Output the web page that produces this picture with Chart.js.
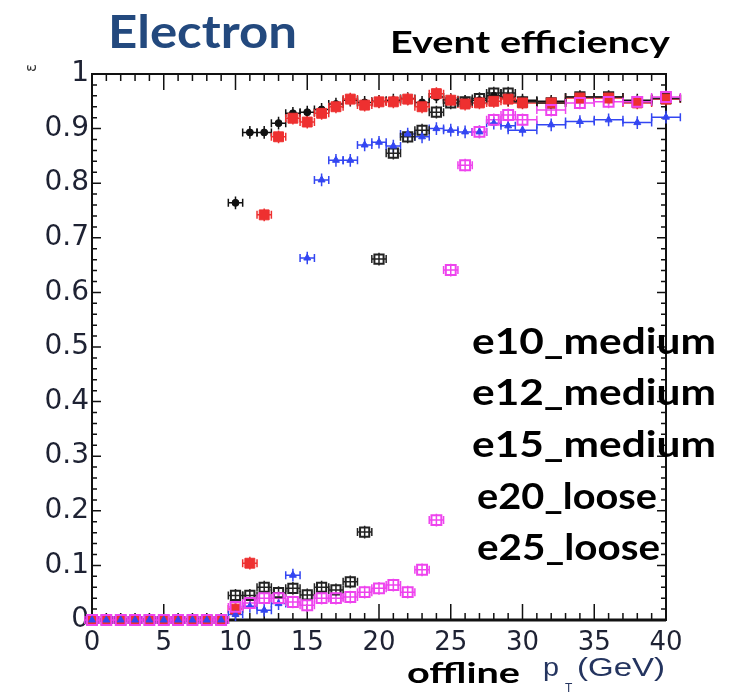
<!DOCTYPE html>
<html>
<head>
<meta charset="utf-8">
<title>Electron event efficiency</title>
<script src="https://cdn.jsdelivr.net/npm/chart.js@4.4.1/dist/chart.umd.min.js"></script>
<style>
  html, body { margin: 0; padding: 0; background: #fff; }
  #wrap { width: 733px; height: 694px; }
</style>
</head>
<body>
<div id="wrap"><canvas id="effChart" width="733" height="694"></canvas></div>
<script>
// offline pT bin centres (GeV) and half widths
const ptBins = [0, 1, 2, 3, 4, 5, 6, 7, 8, 9, 10, 11, 12, 13, 14, 15, 16, 17, 18, 19,
                20, 21, 22, 23, 24, 25, 26, 27, 28, 29, 30, 32, 34, 36, 38, 40];
const binHalfWidth = [0.5, 0.5, 0.5, 0.5, 0.5, 0.5, 0.5, 0.5, 0.5, 0.5, 0.5, 0.5, 0.5, 0.5, 0.5,
                      0.5, 0.5, 0.5, 0.5, 0.5, 0.5, 0.5, 0.5, 0.5, 0.5, 0.5, 0.5, 0.5, 0.5, 0.5,
                      1, 1, 1, 1, 1, 1];

// efficiency per trigger
const e10Medium = [0, 0, 0, 0, 0, 0, 0, 0, 0, 0, 0.764, 0.893, 0.893, 0.910, 0.928, 0.930, 0.935, 0.945,
                   0.952, 0.948, 0.950, 0.952, 0.955, 0.948, 0.958, 0.953, 0.950, 0.952, 0.960, 0.958,
                   0.952, 0.950, 0.958, 0.958, 0.952, 0.955];
const e12Medium = [0, 0, 0, 0, 0, 0, 0, 0, 0, 0, 0.020, 0.104, 0.742, 0.885, 0.919, 0.912, 0.928, 0.940,
                   0.954, 0.943, 0.949, 0.949, 0.954, 0.940, 0.964, 0.952, 0.945, 0.947, 0.950, 0.954,
                   0.947, 0.947, 0.956, 0.956, 0.947, 0.954];
const e15Medium = [0, 0, 0, 0, 0, 0, 0, 0, 0, 0, 0.010, 0.025, 0.018, 0.030, 0.082, 0.663, 0.806, 0.842,
                   0.842, 0.870, 0.875, 0.868, 0.890, 0.885, 0.900, 0.897, 0.894, 0.894, 0.910, 0.905,
                   0.897, 0.907, 0.913, 0.916, 0.911, 0.921];
const e20Loose  = [0, 0, 0, 0, 0, 0, 0, 0, 0, 0, 0.045, 0.045, 0.060, 0.050, 0.058, 0.046, 0.060, 0.055,
                   0.070, 0.161, 0.661, 0.855, 0.885, 0.897, 0.930, 0.947, 0.949, 0.955, 0.965, 0.965,
                   0.949, 0.947, 0.958, 0.958, 0.949, 0.955];
const e25Loose  = [0, 0, 0, 0, 0, 0, 0, 0, 0, 0, 0.024, 0.031, 0.040, 0.040, 0.033, 0.027, 0.040, 0.040,
                   0.042, 0.051, 0.058, 0.064, 0.051, 0.092, 0.183, 0.641, 0.833, 0.894, 0.916, 0.925,
                   0.916, 0.934, 0.947, 0.949, 0.949, 0.958];

const legendNames = ['e10_medium', 'e12_medium', 'e15_medium', 'e20_loose', 'e25_loose'];
const xTicks = [0, 5, 10, 15, 20, 25, 30, 35, 40];

function toPoints(vals) {
    return vals.map((v, i) => ({ x: ptBins[i], y: v, xe: binHalfWidth[i] }));
}

// draw text stretched to a given width
function fitText(ctx, txt, x, y, w) {
    const m = ctx.measureText(txt).width;
    ctx.save();
    ctx.translate(x, y);
    ctx.scale(w / m, 1);
    ctx.fillText(txt, 0, 0);
    ctx.restore();
}

// ROOT-like frame, inner ticks and error bars
const rootStyle = {
    id: 'rootStyle',
    beforeDatasetsDraw(chart) {
        const ctx = chart.ctx;
        const a = chart.chartArea;
        const xs = chart.scales.x, ys = chart.scales.y;
        ctx.save();
        ctx.strokeStyle = '#111';
        ctx.lineWidth = 1.5;
        // y ticks, left and right
        for (let k = 0; k <= 50; k++) {
            const py = ys.getPixelForValue(k / 50);
            const len = (k % 5 === 0) ? 9 : 5;
            ctx.beginPath();
            ctx.moveTo(a.left, py); ctx.lineTo(a.left + len, py);
            ctx.moveTo(a.right, py); ctx.lineTo(a.right - len, py);
            ctx.stroke();
        }
        // x ticks, bottom and top
        for (let k = 0; k <= 40; k++) {
            const px = xs.getPixelForValue(k);
            const len = (k % 5 === 0) ? 16 : 7;
            ctx.beginPath();
            ctx.moveTo(px, a.bottom); ctx.lineTo(px, a.bottom - len);
            ctx.moveTo(px, a.top); ctx.lineTo(px, a.top + len);
            ctx.stroke();
        }
        ctx.lineWidth = 2;
        ctx.strokeRect(a.left, a.top, a.right - a.left, a.bottom - a.top);
        ctx.lineWidth = 3;
        ctx.beginPath();
        ctx.moveTo(a.left, a.bottom); ctx.lineTo(a.right, a.bottom);
        ctx.stroke();

        // error bars
        chart.data.datasets.forEach(ds => {
            ctx.strokeStyle = ds.borderColor;
            ctx.lineWidth = 1.5;
            ds.data.forEach(p => {
                const x0 = xs.getPixelForValue(p.x - p.xe);
                const x1 = xs.getPixelForValue(p.x + p.xe);
                const py = ys.getPixelForValue(p.y);
                const ey = p.y > 0 ? Math.abs(ys.getPixelForValue(p.y + 0.008) - py) : 0;
                ctx.beginPath();
                ctx.moveTo(x0, py); ctx.lineTo(x1, py);
                ctx.moveTo(x0, py - 4); ctx.lineTo(x0, py + 4);
                ctx.moveTo(x1, py - 4); ctx.lineTo(x1, py + 4);
                if (ey > 0) {
                    const px = xs.getPixelForValue(p.x);
                    ctx.moveTo(px, py - ey - 2); ctx.lineTo(px, py + ey + 2);
                }
                ctx.stroke();
            });
        });
        ctx.restore();
    },
    afterDraw(chart) {
        const ctx = chart.ctx;
        ctx.save();
        ctx.textBaseline = 'alphabetic';
        ctx.textAlign = 'left';

        ctx.fillStyle = '#23497e';
        ctx.font = 'bold 46px Lato';
        fitText(ctx, 'Electron', 108, 48, 189);

        ctx.fillStyle = '#000';
        ctx.font = 'bold 30px Lato';
        fitText(ctx, 'Event efficiency', 390, 53, 280);

        ctx.font = 'bold 37px Lato';
        const base = [354, 405, 457, 509, 560];
        const lx = [472, 472, 472, 477, 477];
        const lw = [244, 244, 244, 180, 183];
        legendNames.forEach((n, i) => fitText(ctx, n, lx[i], base[i], lw[i]));

        ctx.font = 'bold 29px Lato';
        fitText(ctx, 'offline', 407, 683, 113);

        ctx.fillStyle = '#24345f';
        ctx.font = '25px "Liberation Sans"';
        fitText(ctx, 'p', 543, 676, 16);
        fitText(ctx, '(GeV)', 577, 676, 88);
        ctx.font = '12px "Liberation Sans"';
        ctx.fillText('T', 565, 692);

        // clipped y title fragment
        ctx.fillStyle = '#333';
        ctx.font = '15px "DejaVu Sans"';
        ctx.translate(36, 72);
        ctx.rotate(-Math.PI / 2);
        ctx.fillText('ε', 0, 0);
        ctx.restore();
    }
};

const series = [
    { label: legendNames[0], vals: e10Medium, color: '#111111', style: 'circle', r: 3.5, fill: true, order: 5 },
    { label: legendNames[1], vals: e12Medium, color: '#ee3030', style: 'rect', r: 7, fill: true, order: 3 },
    { label: legendNames[2], vals: e15Medium, color: '#3346f2', style: 'triangle', r: 4, fill: true, order: 2 },
    { label: legendNames[3], vals: e20Loose, color: '#222222', style: 'rect', r: 6.5, fill: false, order: 4 },
    { label: legendNames[4], vals: e25Loose, color: '#ee44ee', style: 'rect', r: 7, fill: false, order: 1 }
];

const ctx = document.getElementById('effChart').getContext('2d');
const chart = new Chart(ctx, {
    type: 'scatter',
    data: {
        datasets: series.map(s => ({
            label: s.label,
            data: toPoints(s.vals),
            pointStyle: s.style,
            pointRadius: s.r,
            pointHoverRadius: s.r,
            borderColor: s.color,
            pointBorderColor: s.color,
            pointBackgroundColor: s.fill ? s.color : 'rgba(255,255,255,0)',
            pointBorderWidth: s.fill ? 1 : 2,
            showLine: false,
            clip: false,
            order: s.order
        }))
    },
    options: {
        responsive: false,
        animation: false,
        events: [],
        layout: { padding: { left: 0, right: 67, top: 74, bottom: 0 } },
        plugins: { legend: { display: false }, tooltip: { enabled: false } },
        scales: {
            x: {
                type: 'linear',
                min: 0, max: 40,
                afterFit: s => { s.height = 74; },
                afterBuildTicks: s => { s.ticks = xTicks.map(v => ({ value: v })); },
                grid: { display: false, drawTicks: false },
                border: { display: false },
                ticks: {
                    padding: 8,
                    color: '#1e2233',
                    font: { family: 'DejaVu Sans', size: 26 },
                    maxRotation: 0,
                    autoSkip: false
                }
            },
            y: {
                type: 'linear',
                min: 0, max: 1,
                afterFit: s => { s.width = 92; },
                grid: { display: false, drawTicks: false },
                border: { display: false },
                ticks: {
                    stepSize: 0.1,
                    padding: 3,
                    color: '#1e2233',
                    font: { family: 'DejaVu Sans', size: 28 },
                    callback: v => {
                        const r = Math.round(v * 10) / 10;
                        return (r === 0 || r === 1) ? String(r) : r.toFixed(1);
                    }
                }
            }
        }
    },
    plugins: [rootStyle]
});
</script>
</body>
</html>
